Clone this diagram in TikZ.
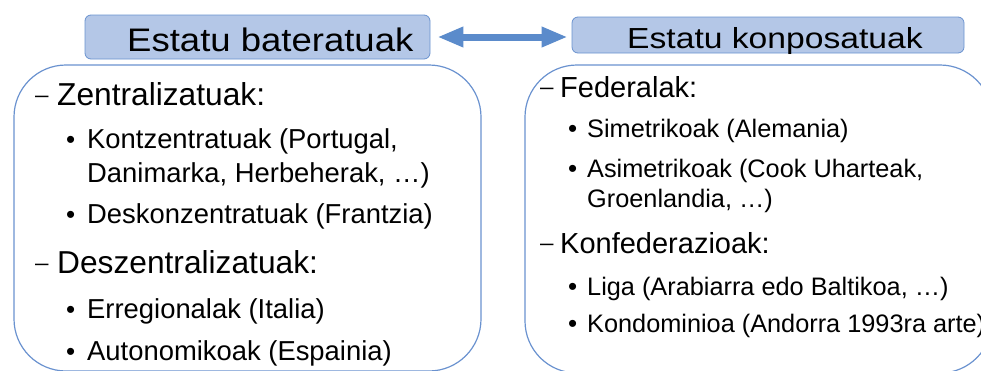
\documentclass[tikz,border=0pt]{standalone}
\usepackage{fontspec}
\setmainfont{Liberation Sans}
\usepackage{graphicx}
\usetikzlibrary{arrows.meta}

\definecolor{boxline}{HTML}{6A92CF}
\definecolor{titlefill}{HTML}{B4C7E7}
\definecolor{arrowfill}{HTML}{5B8BCB}
\newcommand{\wide}[2]{\scalebox{#1}[1]{#2}}

\begin{document}
\begin{tikzpicture}[x=1pt, y=-1pt,
  titlebox/.style={draw=boxline, fill=titlefill, rounded corners=6pt, line width=0.8pt, inner sep=0},
  panel/.style={draw=boxline, rounded corners=52pt, line width=1.2pt},
  ltitle/.style={anchor=base west, inner sep=0, font=\fontsize{32.6}{36}\selectfont},
  rtitle/.style={anchor=base west, inner sep=0, font=\fontsize{29}{32}\selectfont},
  lhead/.style={anchor=base west, inner sep=0, font=\fontsize{31.7}{35}\selectfont},
  litem/.style={anchor=base west, inner sep=0, font=\fontsize{27.4}{30}\selectfont},
  rhead/.style={anchor=base west, inner sep=0, font=\fontsize{29}{32}\selectfont},
  ritem/.style={anchor=base west, inner sep=0, font=\fontsize{25.3}{28}\selectfont},
  dashsym/.style={anchor=base west, inner sep=0, font=\fontsize{22}{24}\selectfont},
  dotsym/.style={anchor=base west, inner sep=0, font=\fontsize{26}{28}\selectfont},
  pointer/.style={draw=arrowfill, line width=7pt,
    {Triangle[length=26pt,width=19pt]}-{Triangle[length=26pt,width=19pt]}}
]
\useasboundingbox (0,0) rectangle (981,370);
\clip (0,0) rectangle (981,370);

% Titles
\node[titlebox, minimum width=345pt, minimum height=44pt] (lbox) at (257.5,37) {};
\node[ltitle] (ltext) at (127,51.3) {\wide{1.12}{Estatu bateratuak}};
\node[titlebox, minimum width=392pt, minimum height=36pt] (rbox) at (768,35) {};
\node[rtitle] (rtext) at (627,48) {\wide{1.16}{Estatu konposatuak}};

% Arrow
\draw[pointer, shorten <=7pt, shorten >=4pt] (lbox.east) -- (lbox.east -| rbox.west);

% Panels
\draw[panel] (14,65) rectangle (481,371);
\draw[panel] (525,65) rectangle (992,373);

% Left list
\node[dashsym] (ld1) at (35,102) {\wide{1.1}{–}};
\node[lhead] (zen) at (57,105) {Zentralizatuak:};
\node[dotsym] (lb1) at (66,148) {•};
\node[litem] (kon) at (87,148) {Kontzentratuak (Portugal,};
\node[litem] (dan) at (87,182) {Danimarka, Herbeherak, …)};
\node[dotsym] (lb2) at (66,223) {•};
\node[litem] (dkn) at (87,223) {Deskonzentratuak (Frantzia)};
\node[dashsym] (ld2) at (35,270) {\wide{1.1}{–}};
\node[lhead] (dsz) at (57,273) {Deszentralizatuak:};
\node[dotsym] (lb3) at (66,318) {•};
\node[litem] (err) at (87,318) {Erregionalak (Italia)};
\node[dotsym] (lb4) at (66,360) {•};
\node[litem] (aut) at (87,360) {Autonomikoak (Espainia)};

% Right list
\node[dashsym] (rd1) at (540,94) {\wide{1.1}{–}};
\node[rhead] (fed) at (560,97) {Federalak:};
\node[dotsym] (rb1) at (568,137) {•};
\node[ritem] (sim) at (587,137) {Simetrikoak (Alemania)};
\node[dotsym] (rb2) at (568,177) {•};
\node[ritem] (asi) at (587,177) {Asimetrikoak (Cook Uharteak,};
\node[ritem] (gro) at (587,207) {Groenlandia, …)};
\node[dashsym] (rd2) at (540,250) {\wide{1.1}{–}};
\node[rhead] (kfd) at (560,253) {Konfederazioak:};
\node[dotsym] (rb3) at (568,295) {•};
\node[ritem] (lig) at (587,295) {Liga (Arabiarra edo Baltikoa, …)};
\node[dotsym] (rb4) at (568,332) {•};
\node[ritem] (kdm) at (587,332) {Kondominioa (Andorra 1993ra arte)};

\end{tikzpicture}
\end{document}
